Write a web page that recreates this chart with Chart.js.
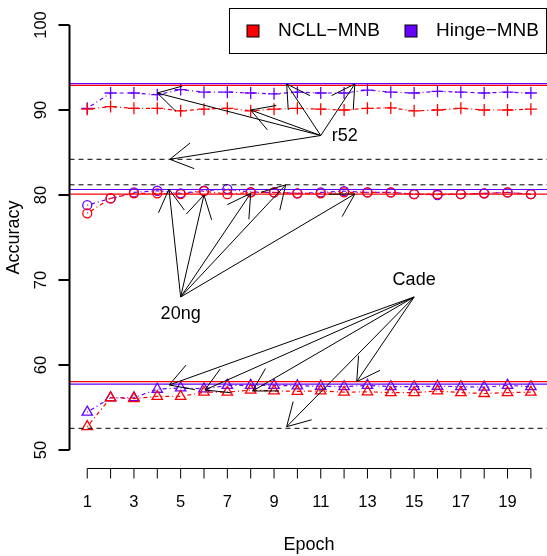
<!DOCTYPE html>
<html>
<head>
<meta charset="utf-8">
<script src="https://cdn.jsdelivr.net/npm/chart.js@4/dist/chart.umd.min.js"></script>
<style>
  body { margin: 0; background: #fff; }
  canvas { display: block; }
</style>
</head>
<body>
<canvas id="js--chart" width="547" height="556"></canvas>
<script>
// values
const epochs = [1, 2, 3, 4, 5, 6, 7, 8, 9, 10, 11, 12, 13, 14, 15, 16, 17, 18, 19, 20];
const r52Ncll = [90.1, 90.4, 90.2, 90.2, 89.9, 90.1, 90.2, 89.9, 90.1, 90.2, 90.1, 90.0, 90.2, 90.25, 89.9, 90.0, 90.2, 90.0, 90.0, 90.1];
const r52Hinge = [90.2, 92.0, 92.0, 91.8, 92.4, 92.1, 92.1, 92.0, 91.9, 92.1, 92.0, 92.0, 92.35, 92.1, 92.0, 92.2, 92.1, 92.0, 92.1, 92.0];
const ngNcll = [77.85, 79.6, 80.2, 80.2, 80.1, 80.45, 80.1, 80.3, 80.3, 80.2, 80.2, 80.3, 80.3, 80.3, 80.1, 80.1, 80.1, 80.2, 80.3, 80.1];
const ngHinge = [78.8, 79.6, 80.3, 80.5, 80.2, 80.5, 80.7, 80.35, 80.3, 80.2, 80.3, 80.45, 80.3, 80.3, 80.1, 80.0, 80.1, 80.2, 80.3, 80.1];
const cadeNcll = [52.75, 56.15, 56.05, 56.3, 56.3, 56.8, 56.8, 57.05, 56.95, 56.9, 56.95, 56.8, 56.85, 56.75, 56.75, 56.95, 56.75, 56.65, 56.75, 56.8];
const cadeHinge = [54.45, 56.15, 56.15, 57.15, 57.3, 57.2, 57.6, 57.6, 57.6, 57.55, 57.5, 57.45, 57.6, 57.45, 57.45, 57.5, 57.45, 57.4, 57.6, 57.45];

// horizontal reference lines: r52, 20ng, Cade
const bestNcll = [92.9, 80.1, 58.05];
const bestHinge = [93.1, 80.65, 57.75];
const baseline = [84.2, 81.2, 52.55];

const yTicks = [50, 60, 70, 80, 90, 100];
const xTickLabels = [1, 3, 5, 7, 9, 11, 13, 15, 17, 19];
const seriesNames = ["NCLL\u2212MNB", "Hinge\u2212MNB"];

// annotations: label anchor and arrow tips, in data units
const noteNames = ["r52", "20ng", "Cade"];
const noteX = [11, 5, 15];
const noteY = [87, 68, 68];
const tipsX = [[4.54, 4.0, 8.0, 9.54, 12.46], [4.5, 6.0, 8.0, 9.5, 12.46], [4.51, 6.04, 8.08, 12.54, 9.54]];
const tipsY = [[84.2, 92.0, 90.0, 93.06, 93.06], [80.7, 80.0, 80.2, 81.2, 80.12], [57.65, 57.06, 56.94, 58.04, 52.74]];

const red = "#ff0000";
const blue = "#6600ff";
const font = "'Liberation Sans', Arial, sans-serif";
const xMin = 0.24, xMax = 20.69;

function series(values, color, shape, radius) {
  return {
    data: values.map(function (v, i) { return { x: epochs[i], y: v }; }),
    borderColor: color,
    borderWidth: 1.2,
    borderDash: [1, 3, 4, 3],
    pointStyle: shape,
    pointRadius: radius,
    pointBorderColor: color,
    pointBackgroundColor: "rgba(0,0,0,0)",
    pointBorderWidth: 1.3,
    tension: 0
  };
}

function hline(v, color, dash, width) {
  return {
    data: [{ x: xMin, y: v }, { x: xMax, y: v }],
    borderColor: color,
    borderWidth: width,
    borderDash: dash,
    pointRadius: 0
  };
}

const datasets = [];
for (let i = 0; i < 3; i++) {
  datasets.push(hline(baseline[i], "#000", [5, 4], 1));
  datasets.push(hline(bestNcll[i], red, [], 1.4));
  datasets.push(hline(bestHinge[i], blue, [], 1.2));
}
datasets.push(series(r52Ncll, red, "cross", 6));
datasets.push(series(r52Hinge, blue, "cross", 6));
datasets.push(series(ngNcll, red, "circle", 4.5));
datasets.push(series(ngHinge, blue, "circle", 4.5));
datasets.push(series(cadeNcll, red, "triangle", 6));
datasets.push(series(cadeHinge, blue, "triangle", 6));

function arrow(ctx, x0, y0, x1, y1) {
  const len = 26, spread = Math.PI / 6;
  const a = Math.atan2(y0 - y1, x0 - x1);
  ctx.beginPath();
  ctx.moveTo(x0, y0);
  ctx.lineTo(x1, y1);
  ctx.moveTo(x1 + len * Math.cos(a + spread), y1 + len * Math.sin(a + spread));
  ctx.lineTo(x1, y1);
  ctx.lineTo(x1 + len * Math.cos(a - spread), y1 + len * Math.sin(a - spread));
  ctx.stroke();
}

const extras = {
  id: "extras",
  afterDatasetsDraw(chart) {
    const ctx = chart.ctx;
    const xs = chart.scales.x, ys = chart.scales.y;
    ctx.save();

    // arrows and their labels
    ctx.strokeStyle = "#000";
    ctx.lineWidth = 1;
    ctx.fillStyle = "#000";
    ctx.font = "18px " + font;
    ctx.textBaseline = "middle";
    for (let n = 0; n < noteNames.length; n++) {
      const ox = xs.getPixelForValue(noteX[n]);
      const oy = ys.getPixelForValue(noteY[n]);
      for (let k = 0; k < tipsX[n].length; k++) {
        arrow(ctx, ox, oy, xs.getPixelForValue(tipsX[n][k]), ys.getPixelForValue(tipsY[n][k]));
      }
      if (n === 0) {
        ctx.textAlign = "left";
        ctx.fillText(noteNames[n], ox + 11, oy + 1);
      } else if (n === 1) {
        ctx.textAlign = "center";
        ctx.fillText(noteNames[n], ox, oy + 17);
      } else {
        ctx.textAlign = "center";
        ctx.fillText(noteNames[n], ox, oy - 17);
      }
    }

    // y axis, R style
    const ax = xs.left;
    ctx.lineWidth = 2;
    ctx.beginPath();
    ctx.moveTo(ax, ys.getPixelForValue(yTicks[0]));
    ctx.lineTo(ax, ys.getPixelForValue(yTicks[yTicks.length - 1]));
    yTicks.forEach(function (t) {
      const py = ys.getPixelForValue(t);
      ctx.moveTo(ax, py);
      ctx.lineTo(ax - 11, py);
    });
    ctx.stroke();
    ctx.font = "16.5px " + font;
    ctx.textAlign = "center";
    ctx.textBaseline = "middle";
    yTicks.forEach(function (t) {
      ctx.save();
      ctx.translate(41, ys.getPixelForValue(t));
      ctx.rotate(-Math.PI / 2);
      ctx.fillText(String(t), 0, 0);
      ctx.restore();
    });

    // x axis, drawn below the plot
    const by = 468.5;
    ctx.lineWidth = 1;
    ctx.beginPath();
    ctx.moveTo(xs.getPixelForValue(epochs[0]), by);
    ctx.lineTo(xs.getPixelForValue(epochs[epochs.length - 1]), by);
    epochs.forEach(function (e) {
      const px = xs.getPixelForValue(e);
      ctx.moveTo(px, by);
      ctx.lineTo(px, by + 10);
    });
    ctx.stroke();
    xTickLabels.forEach(function (e) {
      ctx.fillText(String(e), xs.getPixelForValue(e), 502);
    });

    // axis titles
    ctx.font = "18px " + font;
    ctx.fillText("Epoch", (xs.getPixelForValue(1) + xs.getPixelForValue(20)) / 2, 545);
    ctx.save();
    ctx.translate(14, (ys.getPixelForValue(50) + ys.getPixelForValue(100)) / 2);
    ctx.rotate(-Math.PI / 2);
    ctx.fillText("Accuracy", 0, 0);
    ctx.restore();

    // legend
    ctx.fillStyle = "#fff";
    ctx.fillRect(229.5, 8.5, 317, 45);
    ctx.strokeStyle = "#000";
    ctx.lineWidth = 1;
    ctx.strokeRect(229.5, 8.5, 317, 45);
    const legendX = [247, 405];
    const legendColors = [red, blue];
    ctx.font = "19px " + font;
    ctx.textAlign = "left";
    for (let i = 0; i < 2; i++) {
      ctx.fillStyle = legendColors[i];
      ctx.fillRect(legendX[i], 25, 12, 12);
      ctx.strokeRect(legendX[i], 25, 12, 12);
      ctx.fillStyle = "#000";
      ctx.fillText(seriesNames[i], legendX[i] + 31, 31);
    }
    ctx.restore();
  }
};

new Chart(document.getElementById("js--chart"), {
  type: "line",
  data: { datasets: datasets },
  options: {
    responsive: false,
    animation: false,
    devicePixelRatio: 1,
    layout: { padding: { top: 8, right: 0, bottom: 0, left: 0 }, autoPadding: false },
    plugins: { legend: { display: false }, tooltip: { enabled: false } },
    scales: {
      x: {
        type: "linear", min: xMin, max: xMax,
        grid: { display: false }, border: { display: false }, ticks: { display: false },
        afterFit: function (s) { s.height = 89; }
      },
      y: {
        type: "linear", min: 48, max: 102,
        grid: { display: false }, border: { display: false }, ticks: { display: false },
        afterFit: function (s) { s.width = 69.5; }
      }
    }
  },
  plugins: [extras]
});
</script>
</body>
</html>
